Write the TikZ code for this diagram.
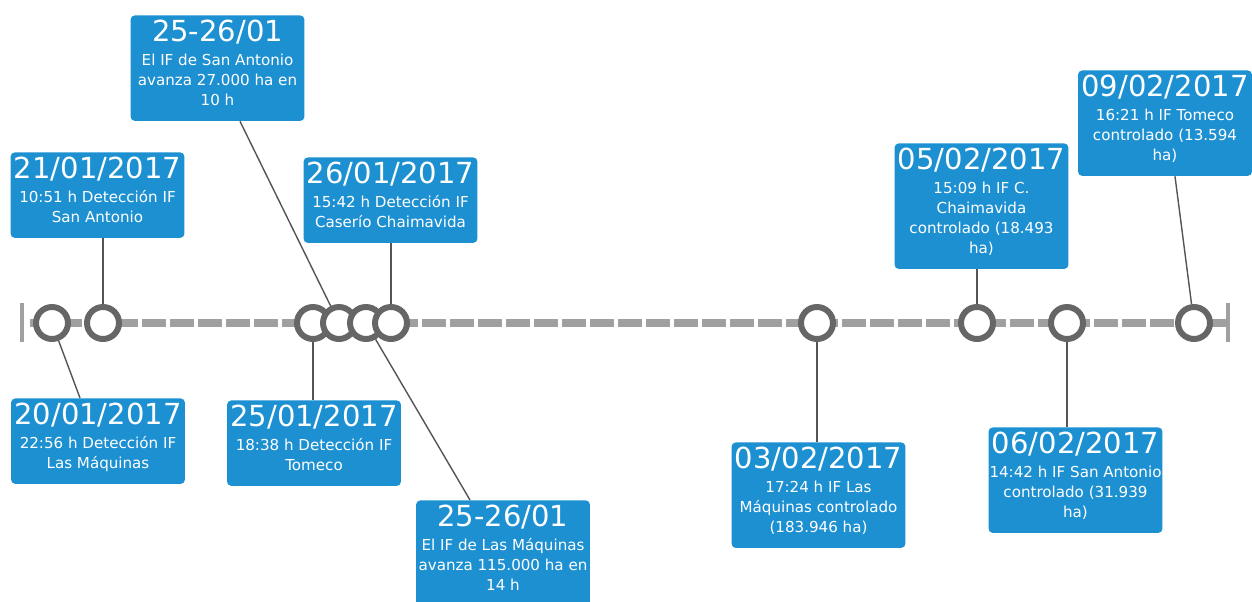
\documentclass[tikz,border=0pt]{standalone}
\usepackage{fontspec}
\setmainfont{DejaVu Sans}
\usetikzlibrary{positioning}
\definecolor{EvBlue}{RGB}{29,144,210}
\definecolor{RingGray}{RGB}{102,102,102}
\definecolor{LineGray}{RGB}{160,160,160}
\definecolor{LinkGray}{RGB}{85,85,85}
\tikzset{
	evbox/.style={fill=EvBlue, text=white, rounded corners=2.5pt, align=center,
		minimum width=3.48cm, inner xsep=0pt, inner ysep=0.1cm, text depth=0.2cm,
		anchor=north, font=\fontsize{8.6}{11.4}\selectfont},
	ring/.style={circle, draw=RingGray, fill=white, line width=3.4pt,
		minimum size=0.64cm, inner sep=0pt},
	axis/.style={draw=LineGray, line width=4pt, dash pattern=on 0.48cm off 0.08cm},
	tick/.style={draw=LineGray, line width=1.8pt},
	link/.style={draw=LinkGray, line width=0.8pt}
}
\newcommand{\evdate}[1]{{\fontsize{16.5}{20}\selectfont #1}\\[0.08cm]}

\begin{document}
\begin{tikzpicture}[x=0.02cm, y=-0.02cm]
		\useasboundingbox (0,0) rectangle (1252,602);
		\draw[axis] (30,323) -- (1226,323);
		\draw[tick] (22,303) -- (22,342);
		\draw[tick] (1228,303) -- (1228,342);
		\node[ring] (p20) at (52,323) {};
		\node[ring] (p21) at (103,323) {};
		\node[ring] (p25) at (313,323) {};
		\node[ring] (p25a) at (339,323) {};
		\node[ring] (p25b) at (366,323) {};
		\node[ring] (p26) at (391,323) {};
		\node[ring] (p03) at (817,323) {};
		\node[ring] (p05) at (977,323) {};
		\node[ring] (p06) at (1067,323) {};
		\node[ring] (p09) at (1194,323) {};
		\node[evbox] (t21) at (97.5,152) {\evdate{21/01/2017}10:51 h Detección IF\\San Antonio};
		\node[evbox] (t25a) at (217.5,15) {\evdate{25-26/01}El IF de San Antonio\\avanza 27.000 ha en\\10 h};
		\node[evbox] (t26) at (390.5,157) {\evdate{26/01/2017}15:42 h Detección IF\\Caserío Chaimavida};
		\node[evbox] (t05) at (981.5,143) {\evdate{05/02/2017}15:09 h IF C.\\Chaimavida\\controlado (18.493\\ha)};
		\node[evbox] (t09) at (1165,70) {\evdate{09/02/2017}16:21 h IF Tomeco\\controlado (13.594\\ha)};
		\node[evbox] (t20) at (98,398) {\evdate{20/01/2017}22:56 h Detección IF\\Las Máquinas};
		\node[evbox] (t25) at (314,400) {\evdate{25/01/2017}18:38 h Detección IF\\Tomeco};
		\node[evbox] (t25b) at (503,500) {\evdate{25-26/01}El IF de Las Máquinas\\avanza 115.000 ha en\\14 h};
		\node[evbox] (t03) at (818.5,442) {\evdate{03/02/2017}17:24 h IF Las\\Máquinas controlado\\(183.946 ha)};
		\node[evbox] (t06) at (1075.5,427) {\evdate{06/02/2017}14:42 h IF San Antonio\\controlado (31.939\\ha)};
		\draw[link] (p21) -- (p21 |- t21.south);
		\draw[link] (p25a) -- ([xshift=0.45cm]t25a.south);
		\draw[link] (p26) -- (p26 |- t26.south);
		\draw[link] (p05) -- (p05 |- t05.south);
		\draw[link] (p09) -- ([xshift=0.2cm]t09.south);
		\draw[link] (p20) -- ([xshift=-0.36cm]t20.north);
		\draw[link] (p25) -- (p25 |- t25.north);
		\draw[link] (p25b) -- ([xshift=-0.66cm]t25b.north);
		\draw[link] (p03) -- (p03 |- t03.north);
		\draw[link] (p06) -- (p06 |- t06.north);
	\end{tikzpicture}
\end{document}
